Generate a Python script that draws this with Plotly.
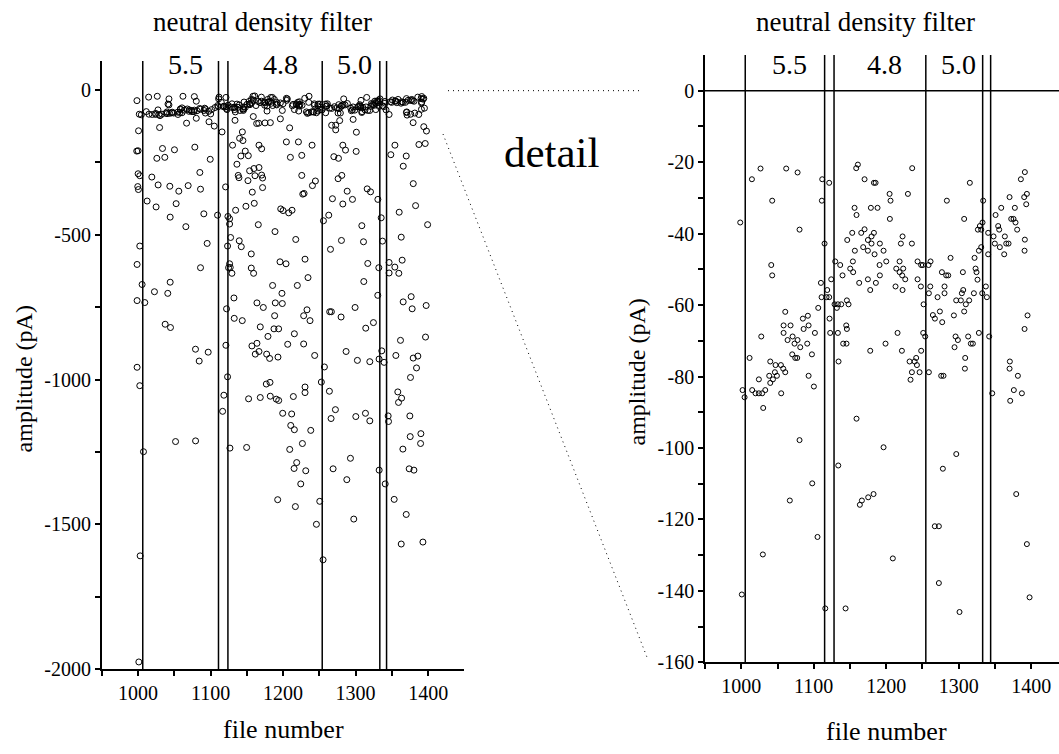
import plotly.graph_objects as go

W, H = 1059, 754

# ---------------- data ----------------
# points (amplitude > -160 pA)
detail_file = [
    1026.6, 1062.0, 1077.7, 1014.7, 1111.7, 1042.7, 1111.2, 998.6, 1080.4, 1114.9,
    1041.4, 1042.7, 1109.9, 1110.8, 1106.2, 1060.7, 1085.0, 1091.9, 1058.4, 1068.0,
    1086.0, 1092.9, 1101.6, 1058.4, 1027.6, 1063.9, 1070.8, 1077.7, 1073.5, 1091.0,
    1081.4, 1011.5, 1070.3, 1074.5, 1077.2, 1097.5, 1040.0, 1054.7, 1047.3, 1057.9,
    1049.2, 1060.7, 1046.4, 1038.6, 1043.7, 1040.0, 1092.9, 1024.3, 1100.2, 1001.8,
    1004.6, 1015.1, 1019.7, 1024.3, 1028.9, 1033.1, 1055.1, 1030.3,
    1160.9, 1158.6, 1235.8, 1121.3, 1170.1, 1183.0, 1185.3, 1204.6, 1229.9, 1283.6,
    1205.9, 1156.3, 1178.8, 1188.0, 1159.0, 1205.0, 1170.1, 1165.5, 1153.1, 1183.0,
    1179.7, 1146.2, 1174.7, 1222.5, 1179.7, 1191.2, 1220.2, 1235.4, 1168.2, 1174.7,
    1156.7, 1196.3, 1183.9, 1129.6, 1154.0, 1136.5, 1190.8, 1200.0, 1218.4, 1243.2,
    1248.2, 1250.5, 1261.1, 1258.4, 1150.3, 1154.4, 1213.8, 1223.4, 1218.4, 1222.0,
    1226.2, 1139.7, 1174.7, 1191.2, 1243.2, 1276.8, 1282.7, 1285.5, 1124.1, 1162.7,
    1185.7, 1177.9, 1212.8, 1222.5, 1247.8, 1260.7, 1280.4, 1118.6, 1258.8, 1280.4,
    1117.7, 1121.3, 1270.8, 1145.7, 1148.0, 1128.7, 1133.3, 1137.9, 1131.9, 1251.5,
    1274.0, 1121.8, 1264.3, 1267.1, 1277.2, 1144.8, 1145.7, 1122.7, 1133.3, 1215.6,
    1251.0, 1253.8, 1140.6, 1145.2, 1199.0, 1177.9, 1221.6, 1248.2, 1134.2, 1232.2,
    1239.1, 1241.3, 1242.3, 1235.4, 1246.0, 1258.8, 1275.8, 1279.0, 1233.5, 1159.0,
    1391.2, 1385.7, 1315.3, 1394.0, 1390.3, 1370.1, 1333.7, 1393.1, 1358.6, 1377.4,
    1350.8, 1307.5, 1372.4, 1375.6, 1378.3, 1332.8, 1354.4, 1329.1, 1326.4, 1331.0,
    1355.8, 1380.6, 1340.6, 1348.0, 1363.6, 1391.2, 1349.8, 1365.5, 1368.7, 1356.7,
    1331.0, 1327.8, 1390.8, 1340.6, 1362.7, 1321.8, 1288.7, 1323.2, 1324.5, 1305.7,
    1325.9, 1337.4, 1306.2, 1304.3, 1320.9, 1332.4, 1338.8, 1296.5, 1302.9, 1314.4,
    1309.8, 1307.5, 1293.3, 1394.9, 1390.8, 1327.8, 1295.6, 1313.0, 1342.0, 1298.8,
    1316.7, 1319.5, 1294.2, 1308.9, 1370.5, 1308.5, 1370.1, 1381.6, 1376.0, 1387.1,
    1346.2, 1371.0,
    1080.4, 1196.3, 1296.6, 1133.8, 1278.1, 1097.9, 1379.3, 1182.5, 1175.1, 1166.4,
    1067.0, 1163.6, 1267.0, 1272.6, 1105.2, 1029.8, 1209.1, 1394.0, 1272.6, 1000.8,
    1397.7, 1115.9, 1143.9, 1301.1,
]
detail_amp = [
    -21.8, -21.8, -22.9, -24.8, -24.8, -30.8, -30.8, -36.9, -38.9, -42.8,
    -48.8, -51.7, -53.8, -57.8, -60.8, -61.9, -63.8, -63.0, -65.7, -65.7,
    -66.7, -65.7, -67.8, -67.8, -68.8, -69.8, -68.8, -69.8, -70.8, -70.8,
    -71.8, -74.8, -73.8, -74.8, -74.8, -73.8, -75.8, -76.8, -76.8, -77.8,
    -79.8, -78.8, -78.8, -79.8, -80.8, -81.8, -79.8, -80.8, -82.8, -83.8,
    -85.8, -83.8, -84.7, -84.7, -84.7, -83.8, -84.7, -88.8,
    -20.7, -21.7, -21.7, -25.8, -24.8, -25.8, -25.8, -28.9, -28.9, -30.8,
    -30.8, -32.8, -32.8, -32.8, -34.8, -35.9, -38.8, -39.8, -39.8, -39.8,
    -40.8, -41.8, -41.8, -40.8, -42.8, -42.8, -42.8, -42.8, -43.8, -44.8,
    -44.8, -44.8, -45.8, -47.8, -47.8, -48.8, -48.8, -47.8, -47.8, -47.8,
    -48.8, -48.8, -47.8, -48.8, -49.8, -50.8, -49.8, -49.8, -50.8, -51.7,
    -52.8, -51.7, -52.8, -51.7, -52.8, -50.8, -51.7, -51.7, -52.8, -53.8,
    -53.8, -55.8, -54.8, -55.8, -54.8, -54.8, -54.8, -55.8, -56.7, -56.7,
    -57.8, -57.8, -57.8, -58.7, -59.8, -59.8, -59.8, -59.8, -60.8, -59.8,
    -61.8, -63.8, -62.8, -63.8, -64.8, -65.7, -66.7, -67.8, -67.8, -67.8,
    -67.8, -68.8, -70.8, -70.8, -70.8, -72.8, -72.8, -72.8, -75.8, -75.8,
    -75.8, -74.8, -76.8, -78.8, -78.8, -78.8, -79.8, -79.8, -80.9, -91.8,
    -22.8, -24.8, -25.8, -28.9, -29.8, -29.8, -30.8, -31.8, -32.8, -32.8,
    -34.8, -35.9, -35.9, -35.9, -36.9, -36.9, -37.9, -37.9, -38.9, -38.9,
    -38.9, -38.9, -39.8, -40.8, -40.8, -41.7, -42.8, -42.8, -42.8, -43.8,
    -43.8, -44.8, -44.8, -45.8, -45.8, -46.8, -46.8, -49.8, -50.8, -50.8,
    -52.9, -54.8, -55.8, -56.7, -56.7, -56.7, -57.8, -58.7, -58.7, -58.7,
    -59.8, -61.8, -62.9, -62.9, -66.7, -67.8, -68.8, -68.8, -68.8, -69.8,
    -70.8, -70.8, -71.8, -74.8, -75.8, -77.8, -77.8, -79.8, -83.8, -84.7,
    -84.7, -86.8,
    -97.8, -99.8, -101.7, -104.9, -105.8, -109.9, -112.9, -112.9, -113.8, -114.7,
    -114.7, -115.9, -121.9, -121.9, -124.9, -129.8, -130.9, -126.9, -137.8, -141.0,
    -141.8, -144.9, -144.9, -145.9,
]

# points (amplitude < -160 pA)
wide_file = [
    1140.1, 1144.7, 1130.4, 1166.8, 1170.5, 1147.9, 1152.1, 1141.9, 1000.2, 998.3,
    1033.8, 1050.3, 1078.4, 1026.0, 1037.0, 1099.6, 1136.4, 1000.2, 1002.5, 1019.1,
    1085.3, 1153.9, 1159.9, 1166.8, 1138.2, 1139.2, 1161.3, 1170.5, 1171.8, 1151.6,
    999.7, 1000.6, 1027.8, 1043.9, 1056.3, 1069.2, 1086.2, 1120.8, 1171.8, 1157.6,
    1012.6, 1025.0, 1052.6, 1148.8, 1160.3, 1134.6, 1090.8, 1109.7, 1044.4, 1124.0,
    1126.3, 1126.3, 1165.9, 1188.9, 1066.0, 1127.7, 1139.6, 1142.4, 1123.5, 1002.5,
    1095.4,
    1204.6, 1221.2, 1240.0, 1210.1, 1225.8, 1282.4, 1286.1, 1300.8, 1270.0, 1276.4,
    1225.8, 1244.6, 1240.5, 1281.0, 1275.9, 1229.0, 1227.2, 1288.4, 1316.0, 1320.6,
    1268.1, 1282.4, 1295.7, 1330.7, 1196.8, 1200.0, 1207.8, 1212.4, 1263.0, 1255.7,
    1335.3, 1308.6, 1217.5, 1280.5, 1310.9, 1337.1, 1265.4, 1354.2, 1348.6, 1369.8,
    1365.7, 1387.3, 1396.0, 1379.5, 1382.7, 1360.1, 1399.3, 1362.9,
    998.8, 1086.2, 1005.7, 1044.4, 1022.7, 1041.1, 998.8, 1009.4, 1037.5, 1044.8,
    1079.3, 1096.8, 1084.4, 998.8, 1002.5, 1126.3, 1127.2, 1124.9, 1129.5, 1156.2,
    1156.2, 1159.4, 1195.8, 1204.1, 1230.3, 1185.6, 1198.5, 1219.7, 1234.4, 1132.3,
    1164.0, 1172.8, 1189.3, 1199.0, 1122.1, 1132.7, 1143.8, 1188.4, 1228.4, 1233.0,
    1237.2, 1168.6, 1187.5, 1193.9, 1179.2, 1215.6, 1121.2, 1157.1, 1164.0, 1206.4,
    1228.4, 1161.7, 1166.8, 1177.4, 1181.5, 1193.0, 1243.6, 1123.5, 1176.9, 1182.0,
    1118.4, 1152.5, 1168.6, 1182.4, 1190.7, 1214.2, 1230.3, 1230.3, 1316.8, 1332.0,
    1311.3, 1330.6, 1299.3, 1264.3, 1266.6, 1280.0, 1314.0, 1324.6, 1286.9, 1302.5,
    1319.6, 1332.4, 1336.1, 1339.3, 1257.0, 1252.8, 1263.9, 1346.2, 1354.1, 1364.2,
    1346.2, 1359.6, 1376.6, 1365.6, 1378.0, 1397.3, 1361.9, 1396.4, 1355.5, 1379.4,
    1385.8, 1384.0, 1375.7, 1358.2, 1363.4,
    1007.6, 1051.8, 1079.4, 1116.7, 1126.8, 1149.8, 1194.0, 1199.5, 1211.9, 1210.6,
    1215.6, 1238.2, 1226.7, 1209.2, 1218.8, 1215.2, 1231.3, 1224.4, 1192.6, 1250.6,
    1266.2, 1272.2, 1292.9, 1269.0, 1287.9, 1300.3, 1313.6, 1319.6, 1332.5, 1340.8,
    1344.9, 1345.4, 1359.2, 1374.8, 1375.3, 1365.2, 1390.0, 1389.6, 1373.9, 1380.4,
    1353.2,
    1217.0, 1246.0, 1297.5, 1255.2, 1369.8, 1362.9, 1392.8, 1003.0, 1001.2,
]
wide_amp = [
    -166.9, -174.8, -190.7, -190.7, -203.2, -211.1, -227.0, -228.1, -210.0, -211.1,
    -202.1, -206.6, -197.5, -236.1, -232.7, -239.5, -256.5, -289.4, -296.2, -300.8,
    -284.9, -279.2, -271.3, -267.9, -295.1, -303.0, -296.2, -294.0, -304.2, -313.2,
    -333.7, -343.9, -328.0, -332.5, -349.6, -330.3, -342.7, -334.8, -337.1, -352.9,
    -383.6, -404.0, -392.7, -401.7, -391.5, -415.4, -427.8, -432.4, -439.2, -436.9,
    -444.9, -463.0, -465.3, -489.1, -472.1, -509.5, -520.9, -541.3, -539.0, -539.0,
    -530.0,
    -179.4, -179.4, -190.7, -232.7, -225.9, -190.7, -207.7, -212.3, -230.4, -236.1,
    -295.1, -314.4, -330.3, -295.1, -306.4, -357.5, -359.8, -349.6, -341.6, -351.8,
    -375.6, -393.8, -377.9, -377.9, -410.8, -416.5, -424.4, -415.4, -432.4, -451.7,
    -441.5, -468.7, -516.3, -519.7, -524.3, -522.0, -550.4, -190.7, -223.6, -228.1,
    -263.3, -188.4, -185.0, -323.5, -399.5, -422.2, -465.3, -508.4,
    -602.6, -613.9, -671.8, -663.9, -696.8, -702.4, -727.4, -734.2, -809.1, -820.4,
    -895.3, -905.5, -936.2, -957.7, -1021.3, -600.3, -612.8, -613.9, -633.2, -566.3,
    -615.1, -633.2, -593.5, -600.3, -584.4, -675.2, -702.4, -675.2, -648.0, -718.3,
    -735.3, -751.2, -735.3, -737.6, -755.8, -788.7, -796.6, -779.6, -779.6, -759.2,
    -796.6, -818.2, -825.0, -825.0, -851.1, -842.0, -881.7, -884.0, -874.9, -878.3,
    -877.2, -912.3, -903.2, -912.3, -927.1, -922.5, -916.9, -990.6, -1015.6, -1009.9,
    -1054.2, -1066.6, -1062.1, -1057.6, -1067.8, -1058.7, -1025.8, -1045.1, -599.2, -613.9,
    -661.6, -709.2, -751.2, -765.9, -765.9, -784.1, -822.7, -803.4, -903.2, -933.9,
    -938.4, -929.4, -901.0, -940.7, -956.6, -1008.8, -1040.5, -595.8, -611.7, -587.8,
    -632.1, -633.2, -713.8, -731.9, -755.8, -744.4, -864.7, -853.3, -916.9, -925.9,
    -919.1, -960.0, -992.9, -1042.8, -1064.3,
    -1249.3, -1214.2, -1211.9, -1109.8, -1236.8, -1234.6, -1072.3, -1116.6, -1118.9, -1158.6,
    -1173.3, -1175.6, -1221.0, -1241.4, -1286.8, -1307.2, -1315.1, -1360.5, -1415.0, -1420.6,
    -1134.7, -1104.1, -1272.0, -1308.3, -1345.8, -1127.9, -1116.6, -1142.7, -1312.9, -1360.5,
    -1125.7, -1144.9, -1079.1, -1125.7, -1197.1, -1240.3, -1186.9, -1220.9, -1308.3, -1312.9,
    -1413.9,
    -1438.8, -1500.0, -1481.9, -1622.6, -1466.0, -1568.1, -1561.3, -1608.9, -1975.4,
]

# filter change boundaries (file numbers) as drawn in each panel
bounds_full = [1006.6, 1111, 1124, 1254, 1333.4, 1342.7]
bounds_detail = [1005.5, 1115, 1128, 1254.6, 1333, 1344]
filter_labels = ["5.5", "4.8", "5.0"]
filter_label_x = [1066, 1197, 1299]

x_ticks = [950, 1000, 1050, 1100, 1150, 1200, 1250, 1300, 1350, 1400]
x_text = ["" if v % 100 else str(v) for v in x_ticks]
y_full_ticks = list(range(-2000, 1, 250))
y_full_text = ["" if v % 500 else str(v) for v in y_full_ticks]
y_det_ticks = list(range(-160, 1, 10))
y_det_text = ["" if v % 20 else str(v) for v in y_det_ticks]

all_file = detail_file + wide_file
all_amp = detail_amp + wide_amp

FONT = "Liberation Serif, Times New Roman, serif"

def px(x):
    return x / W

def py(y):
    return (H - y) / H

fig = go.Figure()
fig.add_trace(go.Scatter(
    x=all_file, y=all_amp, mode="markers", xaxis="x", yaxis="y",
    marker=dict(symbol="circle-open", size=6, color="black", line=dict(width=1)),
    showlegend=False, hoverinfo="skip"))
fig.add_trace(go.Scatter(
    x=all_file, y=all_amp, mode="markers", xaxis="x2", yaxis="y2",
    marker=dict(symbol="circle-open", size=5, color="black", line=dict(width=1)),
    showlegend=False, hoverinfo="skip"))

axis_common = dict(showgrid=False, zeroline=False, showline=True, linecolor="black",
                   linewidth=1.5, ticks="outside", ticklen=5, tickwidth=1.5,
                   tickcolor="black", tickfont=dict(family=FONT, size=20, color="black"))

fig.update_layout(
    width=W, height=H, margin=dict(l=0, r=0, t=0, b=0),
    paper_bgcolor="white", plot_bgcolor="white",
    font=dict(family=FONT, color="black"),
    xaxis=dict(domain=[px(101.7), px(464.4)], range=[950, 1450], anchor="y",
               tickmode="array", tickvals=x_ticks, ticktext=x_text, **axis_common),
    yaxis=dict(domain=[py(679), py(61.9)], range=[-2000, 100], anchor="x",
               tickmode="array", tickvals=y_full_ticks, ticktext=y_full_text, **axis_common),
    xaxis2=dict(domain=[px(705), 1.0], range=[950, 1438.3], anchor="y2",
                tickmode="array", tickvals=x_ticks, ticktext=x_text, **axis_common),
    yaxis2=dict(domain=[py(672.2), py(55.7)], range=[-160, 10], anchor="x2",
                tickmode="array", tickvals=y_det_ticks, ticktext=y_det_text, **axis_common),
)

shapes = []
for b in bounds_full:
    shapes.append(dict(type="line", xref="x", yref="y domain", x0=b, x1=b, y0=0, y1=1,
                       line=dict(color="black", width=1.5)))
for b in bounds_detail:
    shapes.append(dict(type="line", xref="x2", yref="y2 domain", x0=b, x1=b, y0=0, y1=1,
                       line=dict(color="black", width=1.5)))
shapes.append(dict(type="line", xref="x2 domain", yref="y2", x0=0, x1=1, y0=0, y1=0,
                   line=dict(color="black", width=1.5)))
# dotted connectors
shapes.append(dict(type="line", xref="paper", yref="paper", x0=px(448), x1=px(640),
                   y0=py(92), y1=py(92), line=dict(color="black", width=1, dash="1px,4px")))
shapes.append(dict(type="line", xref="paper", yref="paper", x0=px(443), x1=px(647),
                   y0=py(136), y1=py(667), line=dict(color="black", width=1, dash="1px,4px")))
fig.update_layout(shapes=shapes)

ann = []
for lbl, xv in zip(filter_labels, filter_label_x):
    ann.append(dict(text=lbl, x=xv, y=py(65.5), xref="x", yref="paper", showarrow=False,
                    font=dict(family=FONT, size=28, color="black"), xanchor="center", yanchor="middle"))
    ann.append(dict(text=lbl, x=xv, y=py(65.5), xref="x2", yref="paper", showarrow=False,
                    font=dict(family=FONT, size=28, color="black"), xanchor="center", yanchor="middle"))
ann += [
    dict(text="neutral density filter", x=px(262), y=py(22), xref="paper", yref="paper",
         showarrow=False, font=dict(family=FONT, size=27, color="black"), xanchor="center", yanchor="middle"),
    dict(text="neutral density filter", x=px(865), y=py(22), xref="paper", yref="paper",
         showarrow=False, font=dict(family=FONT, size=27, color="black"), xanchor="center", yanchor="middle"),
    dict(text="amplitude (pA)", x=px(24), y=py(385), xref="paper", yref="paper", textangle=-90,
         showarrow=False, font=dict(family=FONT, size=24, color="black"), xanchor="center", yanchor="middle"),
    dict(text="amplitude (pA)", x=px(637), y=py(378), xref="paper", yref="paper", textangle=-90,
         showarrow=False, font=dict(family=FONT, size=24, color="black"), xanchor="center", yanchor="middle"),
    dict(text="file number", x=px(283), y=py(740), xref="paper", yref="paper",
         showarrow=False, font=dict(family=FONT, size=26, color="black"), xanchor="center", yanchor="middle"),
    dict(text="file number", x=px(887), y=py(742), xref="paper", yref="paper",
         showarrow=False, font=dict(family=FONT, size=26, color="black"), xanchor="center", yanchor="middle"),
    dict(text="detail", x=px(552), y=py(155), xref="paper", yref="paper",
         showarrow=False, font=dict(family=FONT, size=43, color="black"), xanchor="center", yanchor="middle"),
]
fig.update_layout(annotations=ann)

fig.write_html("out.html", config={"displayModeBar": False},
               post_script="document.body.style.margin='0';document.body.style.overflow='hidden';")
